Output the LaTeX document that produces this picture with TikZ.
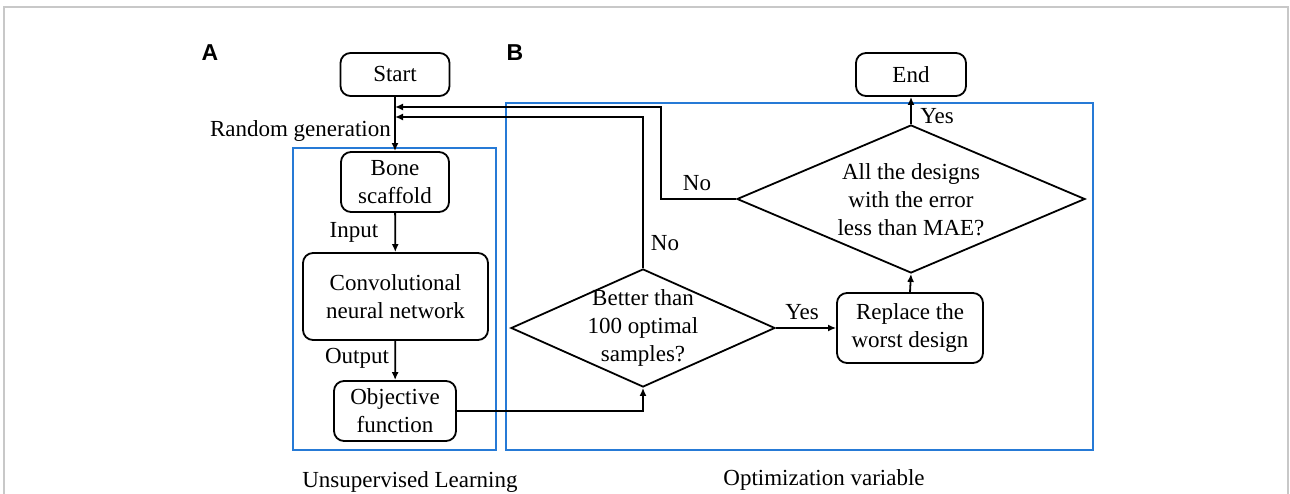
\documentclass[tikz,border=0pt]{standalone}
\usepackage{fontspec}
\setmainfont{Liberation Serif}
\newfontfamily\panelfont{Liberation Sans}
\usetikzlibrary{shapes.geometric,arrows.meta}
\definecolor{panelblue}{RGB}{38,122,214}
\definecolor{framegray}{RGB}{200,200,200}
\begin{document}
\begin{tikzpicture}[x=1pt,y=-1pt,
  every node/.style={font=\rmfamily\fontsize{23}{28}\selectfont},
  box/.style={draw,line width=1.8pt,rounded corners=10pt,align=center,inner sep=0pt},
  decision/.style={draw,shape=diamond,line width=1.8pt,inner sep=0pt},
  dtext/.style={align=center,inner sep=0pt},
  lbl/.style={inner sep=0pt},
  panel/.style={draw=panelblue,line width=2.6pt},
  tag/.style={inner sep=0pt,font=\panelfont\bfseries\fontsize{23}{26}\selectfont},
  conn/.style={line width=1.8pt},
  arr/.style={conn,-{Latex[length=8pt,width=7pt]}}]
\useasboundingbox (0,0) rectangle (1290,494);

% outer frame
\draw[framegray,line width=2pt] (4,494) -- (4,7) -- (1288,7) -- (1288,494);

% panel frames
\draw[panel] (293,148) rectangle (496,450);
\draw[panel] (506,103) rectangle (1093,450);

% panel tags
\node[tag] (tagA) at (210,53) {A};
\node[tag] (tagB) at (515,53) {B};

% panel A
\node[box,minimum width=109pt,minimum height=43pt] (start) at (395,74.5) {Start};
\node[box,minimum width=108pt,minimum height=60pt] (bone) at (395,182) {Bone\\scaffold};
\node[box,minimum width=185pt,minimum height=87pt] (cnn) at (395.5,296.5) {Convolutional\\neural network};
\node[box,minimum width=122pt,minimum height=60pt] (obj) at (395,411) {Objective\\function};

% panel B
\node[box,minimum width=110pt,minimum height=43pt] (end) at (911,74.5) {End};
\node[decision,minimum width=348pt,minimum height=148pt] (d2) at (911,199) {};
\node[dtext] (d2t) at (911,200) {All the designs\\with the error\\less than MAE?};
\node[decision,minimum width=264pt,minimum height=118pt] (d1) at (643,328) {};
\node[dtext] (d1t) at (643,328) {Better than\\100 optimal\\samples?};
\node[box,minimum width=146pt,minimum height=70pt] (rep) at (910,328) {Replace the\\worst design};

% junctions on the start line
\coordinate (j1) at (395,107);
\coordinate (j2) at (395,117);
\coordinate (k1) at (661,199);

% connectors
\draw[arr] (start) -- (bone);
\draw[arr] (bone) -- (cnn);
\draw[arr] (cnn) -- (obj);
\draw[arr] (obj.east) -| (d1.south);
\draw[arr] (d1.east) -- (rep.west);
\draw[arr] (rep.north) -- (d2.south);
\draw[arr] (d2.north) -- (end.south);
\draw[arr] (d2.west) -- (k1) |- (j1);
\draw[arr] (d1.north) |- (j2);

% connector labels
\node[lbl,anchor=east] (lrand) at (391,131) {Random generation};
\node[lbl] (linput) at (354,232) {Input};
\node[lbl] (loutput) at (357,358) {Output};
\node[lbl] (lyes1) at (802,312) {Yes};
\node[lbl] (lyes2) at (937,116) {Yes};
\node[lbl] (lno1) at (697,183) {No};
\node[lbl] (lno2) at (665,243) {No};

% captions
\node[lbl] (capA) at (410,482) {Unsupervised Learning};
\node[lbl] (capB) at (824,480) {Optimization variable};
\end{tikzpicture}
\end{document}
